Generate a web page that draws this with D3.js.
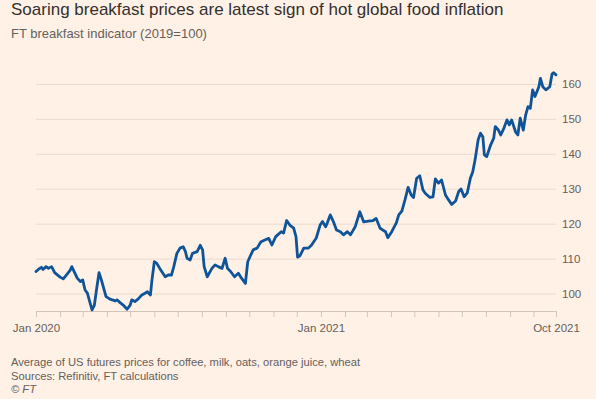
<!DOCTYPE html>
<html>
<head>
<meta charset="utf-8">
<script src="https://cdn.jsdelivr.net/npm/d3@7"></script>
<style>
  body { margin: 0; background: #fff1e5; }
  #chart { width: 596px; height: 399px; }
  text { font-family: "Liberation Sans", Arial, sans-serif; }
  .grid line { stroke: #eadbce; stroke-width: 1; }
  .grid .domain { display: none; }
  .x.axis .domain, .x.axis line { stroke: #d2c6bb; }
  .axis text { fill: #66605c; font-size: 11.5px; }
</style>
</head>
<body>
<div id="chart"></div>
<script>
// FT breakfast indicator (2019=100)
const dates = [
  "2020-01-01","2020-01-04","2020-01-08","2020-01-10","2020-01-14","2020-01-17","2020-01-21","2020-01-25",
  "2020-02-01","2020-02-05","2020-02-09","2020-02-14","2020-02-16","2020-02-19","2020-02-23","2020-02-27",
  "2020-03-01","2020-03-04","2020-03-07","2020-03-10","2020-03-13","2020-03-16","2020-03-19","2020-03-22",
  "2020-03-25","2020-03-28","2020-03-31","2020-04-05","2020-04-12","2020-04-14","2020-04-18","2020-04-22",
  "2020-04-27","2020-05-01","2020-05-03","2020-05-07","2020-05-11","2020-05-16","2020-05-20","2020-05-23",
  "2020-05-27","2020-05-29","2020-06-01","2020-06-04","2020-06-08","2020-06-12","2020-06-15","2020-06-19",
  "2020-06-23","2020-06-26","2020-06-30","2020-07-04","2020-07-08","2020-07-11","2020-07-13","2020-07-17",
  "2020-07-20","2020-07-26","2020-07-30","2020-08-02","2020-08-04","2020-08-08","2020-08-14","2020-08-18",
  "2020-08-22","2020-08-27","2020-08-31","2020-09-03","2020-09-07","2020-09-12","2020-09-17","2020-09-21",
  "2020-09-26","2020-09-29","2020-10-02","2020-10-06","2020-10-11","2020-10-16","2020-10-21","2020-10-26",
  "2020-10-30","2020-11-04","2020-11-11","2020-11-14","2020-11-18","2020-11-22","2020-11-27","2020-11-30",
  "2020-12-02","2020-12-05","2020-12-10","2020-12-16","2020-12-20","2020-12-26","2020-12-31",
  "2021-01-03","2021-01-07","2021-01-09","2021-01-13","2021-01-17","2021-01-21","2021-01-26","2021-01-30",
  "2021-02-04","2021-02-08","2021-02-14","2021-02-20","2021-02-25","2021-03-03","2021-03-09","2021-03-13",
  "2021-03-18","2021-03-25","2021-03-28","2021-04-02","2021-04-08","2021-04-11","2021-04-15","2021-04-19",
  "2021-04-23","2021-04-27","2021-04-30","2021-05-04","2021-05-08","2021-05-12","2021-05-15","2021-05-21",
  "2021-05-25","2021-05-28","2021-06-01","2021-06-05","2021-06-10","2021-06-14","2021-06-18","2021-06-23",
  "2021-06-27","2021-06-30","2021-07-04","2021-07-08","2021-07-12","2021-07-15","2021-07-18","2021-07-22",
  "2021-07-25","2021-07-28","2021-07-30","2021-08-02","2021-08-07","2021-08-11","2021-08-13","2021-08-17",
  "2021-08-20","2021-08-24","2021-08-28","2021-08-31","2021-09-03","2021-09-08","2021-09-11","2021-09-14",
  "2021-09-18","2021-09-21","2021-09-24","2021-09-27","2021-09-30","2021-10-03","2021-10-08","2021-10-10",
  "2021-10-13","2021-10-17","2021-10-22","2021-10-25","2021-10-27","2021-10-30"
];

const values = [
  106.3, 106.9, 107.5, 106.9, 107.7, 107.2, 107.7, 106.0,
  104.7, 104.2, 105.3, 106.7, 107.7, 106.3, 104.4, 103.4,
  103.9, 101.0, 100.1, 97.7, 95.3, 96.7, 101.5, 106.0,
  103.9, 101.5, 99.1, 98.4, 97.9, 98.2, 97.4, 96.7,
  95.5, 96.7, 98.2, 97.7, 98.4, 99.6, 100.1, 100.5,
  99.6, 103.9, 109.1, 108.7, 107.2, 105.8, 104.8, 105.3,
  105.3, 107.7, 111.5, 113.0, 113.4, 112.0, 110.1, 109.6,
  111.5, 112.0, 113.8, 112.5, 107.7, 104.8, 107.2, 108.2,
  107.7, 107.2, 110.1, 107.2, 106.3, 104.8, 105.8, 104.4,
  102.9, 109.1, 110.6, 112.5, 113.0, 114.8, 115.3, 115.8,
  113.9, 116.3, 117.7, 117.3, 120.9, 119.6, 118.7, 116.3,
  110.4, 110.8, 113.0, 113.0, 113.9, 115.9, 119.6,
  120.6, 119.1, 120.1, 122.5, 120.6, 118.2, 117.7, 116.8,
  117.7, 116.8, 119.1, 123.4, 120.5, 120.7, 120.9, 121.5,
  118.7, 117.7, 116.0, 117.7, 120.3, 122.5, 123.6, 126.8,
  130.4, 128.2, 127.5, 133.0, 133.7, 129.7, 128.7, 127.5,
  127.7, 132.8, 131.6, 132.5, 128.2, 126.8, 125.5, 126.5,
  129.2, 129.9, 127.7, 128.8, 133.0, 134.8, 138.2, 144.0,
  145.9, 144.9, 139.7, 139.2, 142.5, 144.5, 147.8, 146.8,
  145.4, 147.3, 149.7, 148.3, 149.7, 146.3, 145.4, 150.2,
  146.8, 151.1, 153.5, 153.0, 158.3, 156.4, 159.2, 161.6,
  159.2, 158.3, 159.2, 162.9, 163.2, 162.6
];

const yTicks = [100, 110, 120, 130, 140, 150, 160];
const xLabels = { "2020-01-01": "Jan 2020", "2021-01-01": "Jan 2021", "2021-10-30": "Oct 2021" };

const title = "Soaring breakfast prices are latest sign of hot global food inflation";
const subtitle = "FT breakfast indicator (2019=100)";
const notes = [
  "Average of US futures prices for coffee, milk, oats, orange juice, wheat",
  "Sources: Refinitiv, FT calculations",
  "\u00a9 FT"
];

let parse = d3.timeParse("%Y-%m-%d");
let fmt = d3.timeFormat("%Y-%m-%d");
let data = dates.map((d, i) => ({ date: parse(d), value: values[i] }));

let width = 596;
let height = 399;
let margin = { left: 36, right: 556, top: 49, bottom: 311 };

let svg = d3.select("#chart")
  .append("svg")
  .attr("width", width)
  .attr("height", height);

svg.append("rect")
  .attr("width", width)
  .attr("height", height)
  .attr("fill", "#fff1e5");

let xscale = d3.scaleTime()
  .domain([parse(dates[0]), parse(dates[dates.length - 1])])
  .range([margin.left, margin.right]);

let yscale = d3.scaleLinear()
  .domain([95, 170])
  .range([margin.bottom, margin.top]);

// horizontal gridlines
svg.append("g")
  .attr("class", "grid")
  .attr("transform", "translate(" + margin.left + ",0)")
  .call(d3.axisRight(yscale).tickValues(yTicks).tickSize(margin.right - margin.left).tickFormat(""));

// y labels on the right
let yAxis = svg.append("g")
  .attr("class", "y axis")
  .attr("transform", "translate(" + (margin.right + 6) + ",0)")
  .call(d3.axisRight(yscale).tickValues(yTicks).tickSize(0).tickPadding(0));
yAxis.select(".domain").remove();

// monthly ticks plus the last date
let monthTicks = d3.timeMonth.range(xscale.domain()[0], xscale.domain()[1]);
monthTicks.push(xscale.domain()[1]);

svg.append("g")
  .attr("class", "x axis")
  .attr("transform", "translate(0," + margin.bottom + ")")
  .call(d3.axisBottom(xscale)
    .tickValues(monthTicks)
    .tickSize(6)
    .tickSizeOuter(0)
    .tickPadding(7)
    .tickFormat(d => xLabels[fmt(d)] || ""));

let line = d3.line()
  .x(d => xscale(d.date))
  .y(d => yscale(d.value));

svg.append("path")
  .datum(data)
  .attr("fill", "none")
  .attr("stroke", "#0f5499")
  .attr("stroke-width", 2.8)
  .attr("stroke-linejoin", "round")
  .attr("stroke-linecap", "round")
  .attr("d", line);

svg.append("text")
  .attr("x", 11)
  .attr("y", 15)
  .attr("fill", "#33302e")
  .style("font-size", "17px")
  .text(title);

svg.append("text")
  .attr("x", 11)
  .attr("y", 38)
  .attr("fill", "#66605c")
  .style("font-size", "13px")
  .text(subtitle);

svg.selectAll("text.note")
  .data(notes)
  .enter().append("text")
  .attr("class", "note")
  .attr("x", 11)
  .attr("y", (d, i) => 366 + i * 13.5)
  .attr("fill", "#66605c")
  .style("font-size", "11.2px")
  .style("font-style", (d, i) => i == 2 ? "italic" : "normal")
  .text(d => d);
</script>
</body>
</html>
